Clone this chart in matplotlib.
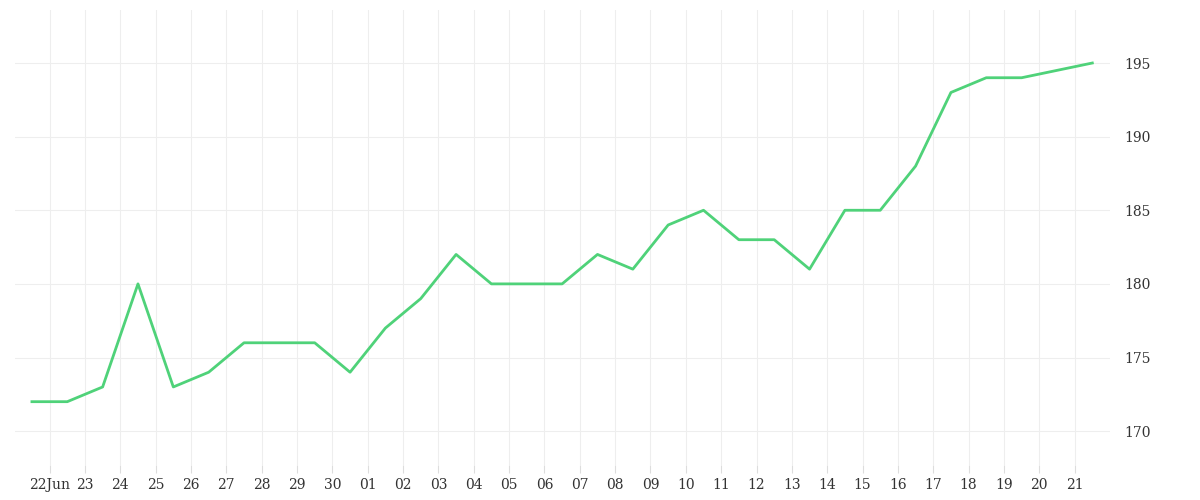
import matplotlib
matplotlib.use("Agg")
import matplotlib.pyplot as plt
import pandas as pd

dates = list(pd.date_range("2023-06-21 12:00", periods=29, freq="D")) + [pd.Timestamp("2023-07-21 12:00")]
values = [172,172,173,180,173,174,176,176,176,174,177,179,182,180,180,180,182,181,
          184,185,183,183,181,185,185,188,193,194,194,195]
yticks = [170, 175, 180, 185, 190, 195]

plt.rcParams['font.family'] = ['DejaVu Serif']
fig = plt.figure(figsize=(12, 5), dpi=100)
ax = fig.add_axes([0.0125, 0.07, 0.9125, 0.91])
ax.plot(dates, values, color="#4fd279", lw=2)
ax.set_xlim(pd.Timestamp("2023-06-21 00:30"), pd.Timestamp("2023-07-22 00:00"))
ax.set_ylim(167.7, 198.6)
ax.yaxis.tick_right()
ax.set_yticks(yticks)
ticks = pd.date_range("2023-06-22", "2023-07-21", freq="D")
ax.set_xticks(ticks)
ax.set_xticklabels(["22Jun"] + [d.strftime("%d") for d in ticks[1:]])
ax.grid(True, color="#eeeeee", lw=0.8)
for s in ax.spines.values():
    s.set_visible(False)
ax.tick_params(axis="both", colors="#dddddd", labelcolor="#333333", labelsize=10, length=6)
ax.tick_params(axis="y", length=0, pad=10)
fig.savefig("out.png")
